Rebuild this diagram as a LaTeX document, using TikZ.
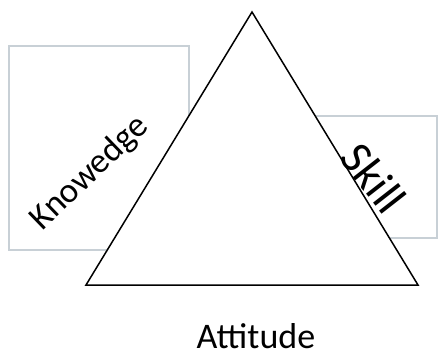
\documentclass[tikz,border=0pt]{standalone}
\usepackage{fontspec}
\setmainfont{Carlito}
\definecolor{cadre}{RGB}{200,208,214}
\begin{document}
\begin{tikzpicture}[x=0.5pt,y=-0.5pt]
        \useasboundingbox (0,0) rectangle (443,359);

        % Cadres gris derriere le triangle
        \draw[cadre, line width=0.6pt] (9,46) rectangle (189,250);
        \draw[cadre, line width=0.6pt] (315,116) rectangle (437,238);

        % Triangle (blanc, par-dessus les cadres)
        \coordinate (haut) at (252,12);
        \coordinate (gauche) at (86,285);
        \coordinate (droite) at (418,285);
        \filldraw[fill=white, line width=0.75pt] (haut) -- (droite) -- (gauche) -- cycle;

        % Etiquettes
        \node[rotate=44] (know) at (90,173) {\fontsize{17.5}{20}\selectfont Knowedge};
        \node[rotate=-52] (skill) at (374,178) {\fontsize{23}{26}\selectfont Skill};
        \node (att) at (256,336) {\fontsize{18}{21}\selectfont Attitude};

    \end{tikzpicture}
\end{document}
